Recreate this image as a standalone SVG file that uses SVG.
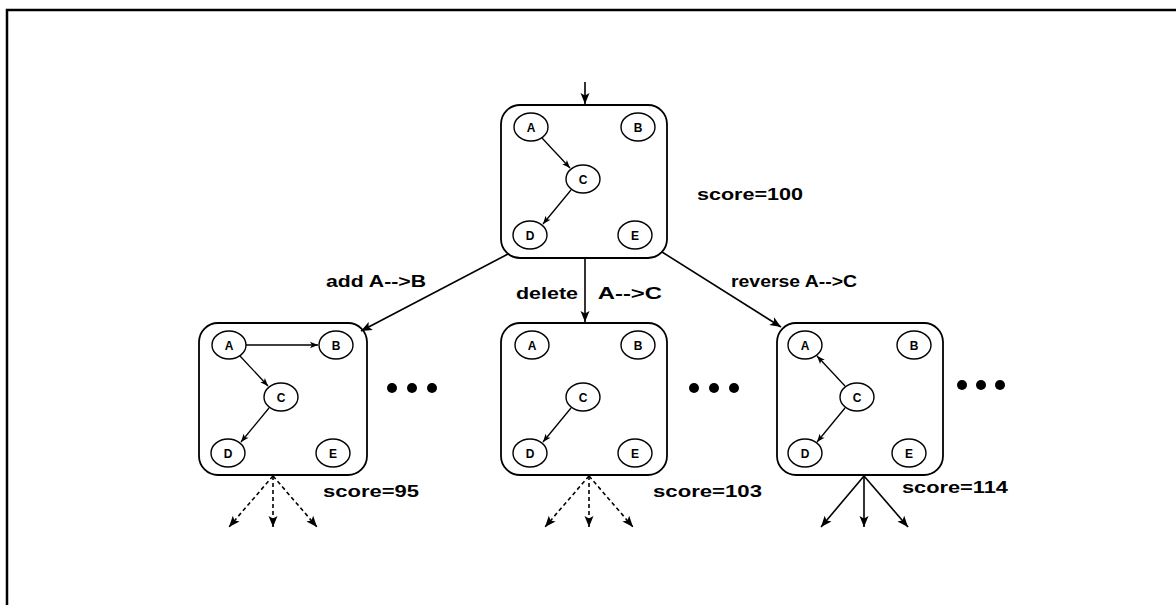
<svg xmlns="http://www.w3.org/2000/svg" width="1176" height="605" viewBox="0 0 1176 605">
<style>
.box{fill:none;stroke:#000;stroke-width:1.8}
.nd{fill:#fff;stroke:#000;stroke-width:1.4}
.nl{font-family:"Liberation Sans",Arial,sans-serif;font-weight:bold;font-size:12px;text-anchor:middle;fill:#000}
.lbl{font-family:"Liberation Sans",Arial,sans-serif;font-weight:bold;font-size:16.5px;fill:#000}
.e{stroke:#000;stroke-width:1.6;fill:none;marker-end:url(#big)}
.ie{stroke:#000;stroke-width:1.3;fill:none;marker-end:url(#small)}
.d{stroke:#000;stroke-width:1.6;fill:none;stroke-dasharray:4 3;marker-end:url(#big)}
.dot{fill:#000}
</style>
<defs>
<marker id="big" markerUnits="userSpaceOnUse" markerWidth="14" markerHeight="12" viewBox="-12 -6 14 12" refX="0" refY="0" orient="auto" overflow="visible">
<path d="M0,0 L-11,-4.5 L-8.5,0 L-11,4.5 Z" fill="#000"/>
</marker>
<marker id="small" markerUnits="userSpaceOnUse" markerWidth="10" markerHeight="8" viewBox="-9 -4 10 8" refX="0" refY="0" orient="auto" overflow="visible">
<path d="M0,0 L-8,-3.2 L-6,0 L-8,3.2 Z" fill="#000"/>
</marker>
</defs>

<path d="M7,605 V10 H1176" fill="none" stroke="#000" stroke-width="2.5"/>

<g id="root">
<rect class="box" x="501" y="105" width="166" height="153" rx="19"/>
<g id="root-A"><ellipse class="nd" cx="531" cy="127" rx="17" ry="14"/><text class="nl" x="531" y="131.5">A</text></g>
<g id="root-B"><ellipse class="nd" cx="638" cy="127" rx="17" ry="14"/><text class="nl" x="638" y="131.5">B</text></g>
<g id="root-C"><ellipse class="nd" cx="583" cy="179" rx="17" ry="14"/><text class="nl" x="583" y="183.5">C</text></g>
<g id="root-D"><ellipse class="nd" cx="530" cy="235" rx="17" ry="14"/><text class="nl" x="530" y="239.5">D</text></g>
<g id="root-E"><ellipse class="nd" cx="635" cy="235" rx="17" ry="14"/><text class="nl" x="635" y="239.5">E</text></g>
<line class="ie" x1="542" y1="138" x2="570" y2="168"/>
<line class="ie" x1="571" y1="190" x2="543" y2="224"/>
<text class="lbl" x="697" y="200" textLength="106" lengthAdjust="spacingAndGlyphs">score=100</text>
</g>

<g id="add">
<rect class="box" x="199" y="323" width="168" height="152" rx="19"/>
<g id="add-A"><ellipse class="nd" cx="229" cy="345" rx="17" ry="14"/><text class="nl" x="229" y="349.5">A</text></g>
<g id="add-B"><ellipse class="nd" cx="336" cy="345" rx="17" ry="14"/><text class="nl" x="336" y="349.5">B</text></g>
<g id="add-C"><ellipse class="nd" cx="281" cy="397" rx="17" ry="14"/><text class="nl" x="281" y="401.5">C</text></g>
<g id="add-D"><ellipse class="nd" cx="228" cy="453" rx="17" ry="14"/><text class="nl" x="228" y="457.5">D</text></g>
<g id="add-E"><ellipse class="nd" cx="333" cy="453" rx="17" ry="14"/><text class="nl" x="333" y="457.5">E</text></g>
<line class="ie" x1="246" y1="345" x2="318" y2="345"/>
<line class="ie" x1="240" y1="356" x2="268" y2="386"/>
<line class="ie" x1="269" y1="408" x2="241" y2="442"/>
<circle class="dot" cx="392" cy="388" r="5"/><circle class="dot" cx="412" cy="388" r="5"/><circle class="dot" cx="432" cy="388" r="5"/>
<text class="lbl" x="323" y="497" textLength="96" lengthAdjust="spacingAndGlyphs">score=95</text>
</g>

<g id="delete">
<rect class="box" x="501" y="323" width="166" height="152" rx="19"/>
<g id="del-A"><ellipse class="nd" cx="532" cy="345" rx="17" ry="14"/><text class="nl" x="532" y="349.5">A</text></g>
<g id="del-B"><ellipse class="nd" cx="638" cy="345" rx="17" ry="14"/><text class="nl" x="638" y="349.5">B</text></g>
<g id="del-C"><ellipse class="nd" cx="583" cy="397" rx="17" ry="14"/><text class="nl" x="583" y="401.5">C</text></g>
<g id="del-D"><ellipse class="nd" cx="530" cy="453" rx="17" ry="14"/><text class="nl" x="530" y="457.5">D</text></g>
<g id="del-E"><ellipse class="nd" cx="635" cy="453" rx="17" ry="14"/><text class="nl" x="635" y="457.5">E</text></g>
<line class="ie" x1="571" y1="408" x2="543" y2="442"/>
<circle class="dot" cx="694" cy="388" r="5"/><circle class="dot" cx="714" cy="388" r="5"/><circle class="dot" cx="734" cy="388" r="5"/>
<text class="lbl" x="653" y="497" textLength="109" lengthAdjust="spacingAndGlyphs">score=103</text>
</g>

<g id="reverse">
<rect class="box" x="777" y="323" width="166" height="152" rx="19"/>
<g id="rev-A"><ellipse class="nd" cx="805" cy="345" rx="17" ry="14"/><text class="nl" x="805" y="349.5">A</text></g>
<g id="rev-B"><ellipse class="nd" cx="914" cy="345" rx="17" ry="14"/><text class="nl" x="914" y="349.5">B</text></g>
<g id="rev-C"><ellipse class="nd" cx="857" cy="397" rx="17" ry="14"/><text class="nl" x="857" y="401.5">C</text></g>
<g id="rev-D"><ellipse class="nd" cx="805" cy="453" rx="17" ry="14"/><text class="nl" x="805" y="457.5">D</text></g>
<g id="rev-E"><ellipse class="nd" cx="909" cy="453" rx="17" ry="14"/><text class="nl" x="909" y="457.5">E</text></g>
<line class="ie" x1="845" y1="386" x2="817" y2="356"/>
<line class="ie" x1="845" y1="408" x2="817" y2="442"/>
<circle class="dot" cx="962" cy="385" r="5"/><circle class="dot" cx="981" cy="385" r="5"/><circle class="dot" cx="1000" cy="385" r="5"/>
<text class="lbl" x="902" y="493" textLength="106" lengthAdjust="spacingAndGlyphs">score=114</text>
</g>

<g id="connectors">
<line class="e" x1="585" y1="82" x2="585" y2="104"/>
<line class="e" x1="508" y1="254" x2="361" y2="331"/>
<line class="e" x1="585" y1="258" x2="585" y2="322"/>
<line class="e" x1="662" y1="252" x2="781" y2="327"/>
<text class="lbl" x="326" y="287" textLength="100" lengthAdjust="spacingAndGlyphs">add A--&gt;B</text>
<text class="lbl" y="299"><tspan x="516" textLength="62" lengthAdjust="spacingAndGlyphs">delete</tspan><tspan x="592" textLength="70" lengthAdjust="spacingAndGlyphs"> A--&gt;C</tspan></text>
<text class="lbl" x="731" y="287" textLength="126" lengthAdjust="spacingAndGlyphs">reverse A--&gt;C</text>
<line class="d" x1="273" y1="476" x2="229" y2="527"/>
<line class="d" x1="273" y1="476" x2="273" y2="527"/>
<line class="d" x1="273" y1="476" x2="317" y2="527"/>
<line class="d" x1="589" y1="476" x2="545" y2="527"/>
<line class="d" x1="589" y1="476" x2="589" y2="527"/>
<line class="d" x1="589" y1="476" x2="633" y2="527"/>
<line class="e" x1="864" y1="476" x2="821" y2="527"/>
<line class="e" x1="864" y1="476" x2="864" y2="527"/>
<line class="e" x1="864" y1="476" x2="908" y2="527"/>
</g>
</svg>
